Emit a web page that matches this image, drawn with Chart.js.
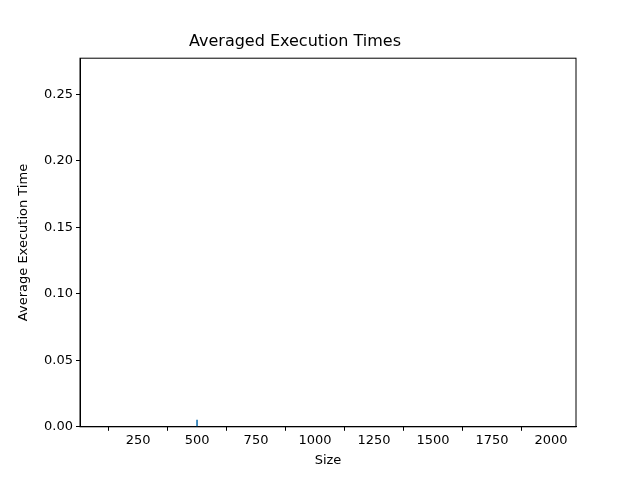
<!DOCTYPE html>
<html>
<head>
<meta charset="utf-8">
<script src="https://cdn.jsdelivr.net/npm/chart.js@4"></script>
<style>
  body { margin: 0; background: #fff; }
  #wrap { width: 640px; height: 480px; }
</style>
</head>
<body>
<div id="wrap"><canvas id="chart" width="640" height="480"></canvas></div>
<script>
const sizes = [500];
const avgTimes = [0.005];
const xTicks = [250, 500, 750, 1000, 1250, 1500, 1750, 2000];
const yTicks = [0, 0.05, 0.10, 0.15, 0.20, 0.25];

const font = { family: 'DejaVu Sans', size: 13 };

new Chart(document.getElementById('chart').getContext('2d'), {
    type: 'bar',
    data: {
        datasets: [{
            data: sizes.map((s, i) => ({ x: s, y: avgTimes[i] })),
            backgroundColor: '#1f77b4',
            barThickness: 1
        }]
    },
    options: {
        responsive: false,
        animation: false,
        layout: { padding: { top: 32, right: 64, bottom: 10, left: 14 } },
        plugins: {
            legend: { display: false },
            tooltip: { enabled: false },
            title: {
                display: true,
                text: 'Averaged Execution Times',
                color: '#000',
                font: { family: 'DejaVu Sans', size: 16, weight: 'normal' },
                padding: { top: 0, bottom: 7 }
            }
        },
        scales: {
            x: {
                type: 'linear',
                offset: false,
                min: 4,
                max: 2106,
                afterBuildTicks: a => { a.ticks = xTicks.map(v => ({ value: v })); },
                ticks: { color: '#000', font, maxRotation: 0, padding: 2, callback: v => String(v) },
                grid: { display: true, drawOnChartArea: false, drawTicks: true, tickLength: 4, color: '#000' },
                border: { color: '#000' },
                title: { display: true, text: 'Size', color: '#000', font, padding: 2 }
            },
            y: {
                min: 0,
                max: 0.277,
                afterBuildTicks: a => { a.ticks = yTicks.map(v => ({ value: v })); },
                afterFit: a => { a.width = 66; },
                ticks: { color: '#000', font, padding: 3, callback: v => v.toFixed(2) },
                grid: { display: true, drawOnChartArea: false, drawTicks: true, tickLength: 4, color: '#000' },
                border: { color: '#000' },
                title: { display: true, text: 'Average Execution Time', color: '#000', font, padding: 2 }
            }
        }
    },
    plugins: [{
        id: 'frame',
        afterDraw(c) {
            const { ctx, chartArea: a } = c;
            ctx.save();
            ctx.strokeStyle = '#000';
            ctx.lineWidth = 1;
            ctx.strokeRect(a.left, a.top, a.right - a.left, a.bottom - a.top);
            ctx.restore();
        }
    }]
});
</script>
</body>
</html>
